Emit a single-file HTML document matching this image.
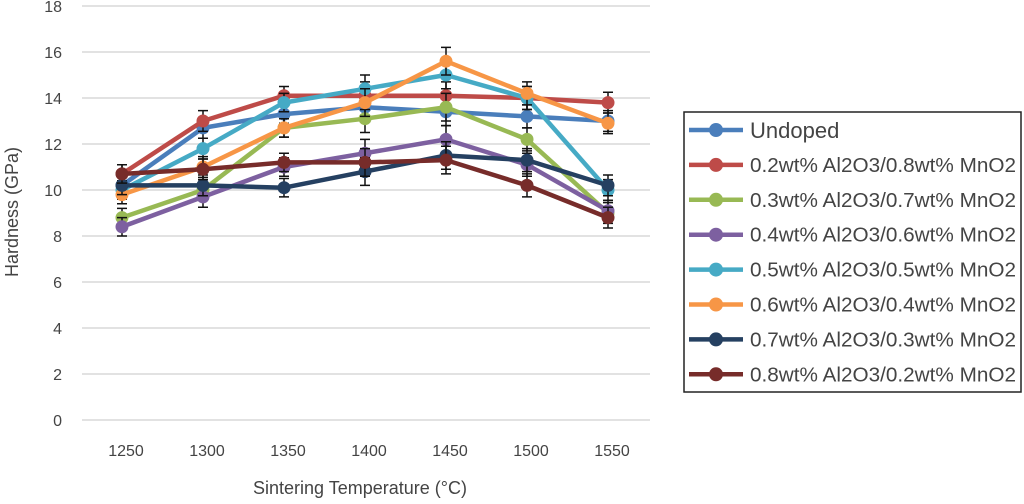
<!DOCTYPE html>
<html><head><meta charset="utf-8"><style>
body{margin:0;background:#fff;font-family:"Liberation Sans",sans-serif}
svg text{font-family:"Liberation Sans",sans-serif;fill:#444}
</style></head><body>
<svg id="c" width="1024" height="499" viewBox="0 0 1024 499" xmlns="http://www.w3.org/2000/svg">
<g id="grid"></g>
<g id="yt"></g>
<g id="xt"></g>
<g id="series"></g>
<text x="18" y="212" font-size="18" text-anchor="middle" transform="rotate(-90 18 212)">Hardness (GPa)</text>
<text x="360" y="494" font-size="18" text-anchor="middle">Sintering Temperature (°C)</text>
<rect x="684" y="112" width="337" height="280" fill="#fff" stroke="#222" stroke-width="1.5"/>
<g id="legend"></g>
</svg>
<script>
const categories=[1250,1300,1350,1400,1450,1500,1550];
const yTicks=[0,2,4,6,8,10,12,14,16,18];
const seriesNames=["Undoped","0.2wt% Al2O3/0.8wt% MnO2","0.3wt% Al2O3/0.7wt% MnO2","0.4wt% Al2O3/0.6wt% MnO2","0.5wt% Al2O3/0.5wt% MnO2","0.6wt% Al2O3/0.4wt% MnO2","0.7wt% Al2O3/0.3wt% MnO2","0.8wt% Al2O3/0.2wt% MnO2"];
const colors=["#4a7ebb","#be4b48","#98b954","#7d60a0","#46aac5","#f79646","#254061","#772c2a"];
const undoped=[10.2,12.7,13.3,13.6,13.4,13.2,13.0];
const s02=[10.7,13.0,14.1,14.1,14.1,14.0,13.8];
const s03=[8.8,10.0,12.7,13.1,13.6,12.2,9.0];
const s04=[8.4,9.7,11.0,11.6,12.2,11.1,9.1];
const s05=[10.0,11.8,13.8,14.4,15.0,14.0,10.0];
const s06=[9.8,11.0,12.7,13.8,15.6,14.2,12.9];
const s07=[10.2,10.2,10.1,10.8,11.5,11.3,10.2];
const s08=[10.7,10.9,11.2,11.2,11.3,10.2,8.8];
const errors=[0.4,0.45,0.4,0.6,0.6,0.5,0.45];
const allSeries=[undoped,s02,s03,s04,s05,s06,s07,s08];
const NS="http://www.w3.org/2000/svg";
const x=i=>122+81*i;
const y=v=>420-23*v;
function mk(tag,attrs,parent){const e=document.createElementNS(NS,tag);for(const k in attrs)e.setAttribute(k,attrs[k]);parent.appendChild(e);return e;}
const grid=document.getElementById('grid'),yt=document.getElementById('yt'),xt=document.getElementById('xt');
yTicks.forEach(v=>{
 const l=mk('line',{x1:82,x2:650,y1:y(v),y2:y(v),stroke:'#d9d9d9','stroke-width':1.5},grid);
 
 
 const t=mk('text',{x:62,y:y(v)+6,'font-size':16,'text-anchor':'end'},yt);
 t.textContent=v;
 
 
});
categories.forEach((c,i)=>{
 const t=mk('text',{x:x(i)+4,y:456,'font-size':16,'text-anchor':'middle'},xt);
 t.textContent=c;
 
 
});
const sg=document.getElementById('series');
allSeries.forEach((d,si)=>{
 const g=mk('g',{},sg);
 
 
 d.forEach((v,i)=>{
  const e=errors[i];
  const eb=mk('path',{d:`M${x(i)} ${y(v+e)}V${y(v-e)}M${x(i)-5} ${y(v+e)}h10M${x(i)-5} ${y(v-e)}h10`,stroke:'#111','stroke-width':1.5,fill:'none'},g);
  
  
 });
 const p=mk('polyline',{points:d.map((v,i)=>x(i)+','+y(v)).join(' '),fill:'none',stroke:colors[si],'stroke-width':4.5,'stroke-linejoin':'round'},g);
 
 
 d.forEach((v,i)=>{
  const c=mk('circle',{cx:x(i),cy:y(v),r:6.5,fill:colors[si]},g);
  
  
 });
});
const lg=document.getElementById('legend');
seriesNames.forEach((n,i)=>{
 const cy=130+34.9*i;
 const g=mk('g',{},lg);
 
 
 mk('line',{x1:689,x2:743,y1:cy,y2:cy,stroke:colors[i],'stroke-width':4.5},g);
 mk('circle',{cx:716,cy:cy,r:7,fill:colors[i]},g);
 const attrs={x:750,y:cy+(i==0?8:7),'font-size':i==0?22:20};
 if(i>0){attrs.textLength=266;attrs.lengthAdjust='spacingAndGlyphs';}
 const t=mk('text',attrs,g);
 t.textContent=n;
 
 
});
</script>
</body></html>
